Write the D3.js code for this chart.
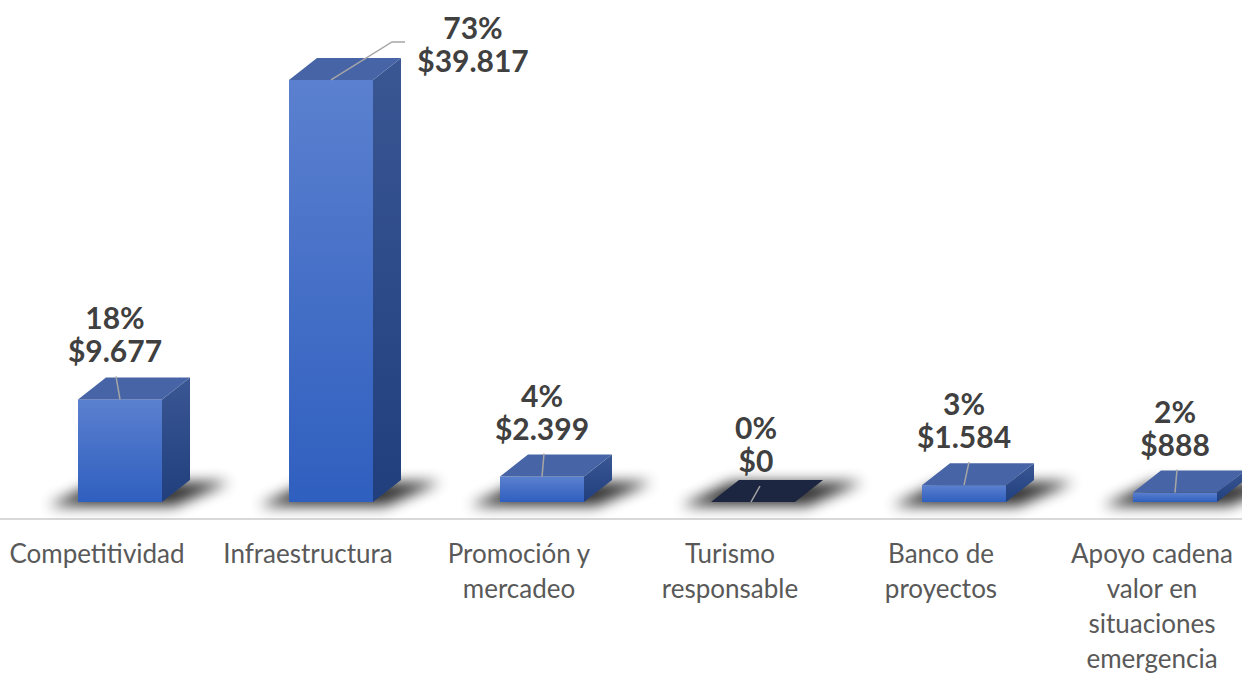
<!DOCTYPE html>
<html>
<head>
<meta charset="utf-8">
<script src="https://cdn.jsdelivr.net/npm/d3@7"></script>
<style>
  html, body { margin: 0; padding: 0; background: #fff; }
  svg { display: block; }
</style>
</head>
<body>
<svg id="chart" width="1242" height="674"></svg>
<script>
const categories = [
  ["Competitividad"],
  ["Infraestructura"],
  ["Promoción y", "mercadeo"],
  ["Turismo", "responsable"],
  ["Banco de", "proyectos"],
  ["Apoyo cadena", "valor en", "situaciones", "emergencia"]
];
const values = [9677, 39817, 2399, 0, 1584, 888];
const percents = ["18%", "73%", "4%", "0%", "3%", "2%"];
const valueLabels = ["$9.677", "$39.817", "$2.399", "$0", "$1.584", "$888"];

const W = 1242, H = 674;
const svg = d3.select("#chart");
const keys = categories.map(c => c.join(" "));

const x = d3.scaleBand().domain(keys).range([-7.5, 1258.5]).paddingInner(0).paddingOuter(0);
const y = d3.scaleLinear().domain([0, 40000]).range([502, 78]);

const barOffset = 85.5, barW = 84, depthX = 28, depthY = 22;

const defs = svg.append("defs");
const gFront = defs.append("linearGradient").attr("id", "gFront").attr("x1", 0).attr("y1", 0).attr("x2", 0).attr("y2", 1);
gFront.append("stop").attr("offset", "0%").attr("stop-color", "#5b80cf");
gFront.append("stop").attr("offset", "100%").attr("stop-color", "#2f5fbf");
const gSide = defs.append("linearGradient").attr("id", "gSide").attr("x1", 0).attr("y1", 0).attr("x2", 0).attr("y2", 1);
gSide.append("stop").attr("offset", "0%").attr("stop-color", "#3a5794");
gSide.append("stop").attr("offset", "100%").attr("stop-color", "#213f7d");
const blur = defs.append("filter").attr("id", "blur").attr("x", "-50%").attr("y", "-100%").attr("width", "200%").attr("height", "300%");
blur.append("feGaussianBlur").attr("stdDeviation", 7);

// axis line
svg.append("line").attr("x1", 0).attr("x2", W).attr("y1", 519).attr("y2", 519)
  .attr("stroke", "#d9d9d9").attr("stroke-width", 2);

const data = keys.map((k, i) => ({ k, i, v: values[i] }));
const base = y(0);

// shadows
svg.append("g").selectAll("path").data(data).join("path")
  .attr("d", d => {
    const l = x(d.k) + barOffset, r = l + barW;
    return `M${l - 30},${base + 4} L${r + 12},${base + 4} L${r + depthX + 40},${base - depthY + 2} L${l + depthX - 8},${base - depthY + 2} Z`;
  })
  .attr("fill", "#000").attr("opacity", 0.8).attr("filter", "url(#blur)");

const bars = svg.append("g").selectAll("g").data(data).join("g");
bars.each(function(d) {
  const g = d3.select(this);
  const l = x(d.k) + barOffset, r = l + barW, t = y(d.v);
  if (d.v > 0) {
    g.append("rect").attr("x", l).attr("y", t).attr("width", barW).attr("height", base - t).attr("fill", "url(#gFront)");
    g.append("path").attr("d", `M${r},${t} L${r + depthX},${t - depthY} L${r + depthX},${base - depthY} L${r},${base} Z`).attr("fill", "url(#gSide)");
    g.append("path").attr("d", `M${l},${t} L${r},${t} L${r + depthX},${t - depthY} L${l + depthX},${t - depthY} Z`).attr("fill", "#4764a6");
  } else {
    g.append("path").attr("d", `M${l},${t} L${r},${t} L${r + depthX},${t - depthY} L${l + depthX},${t - depthY} Z`).attr("fill", "#1d2640");
  }
});

// data labels
const labelFont = "'Lato', 'DejaVu Sans', sans-serif";
const labels = svg.append("g");
data.forEach(d => {
  const l = x(d.k) + barOffset, cx = l + barW / 2, t = y(d.v);
  let lx, yVal, line;
  if (t - 110 < 0) {
    lx = cx + 142; yVal = 72;
    line = `M${cx},${t} L${cx + 61},${t - 38} L${cx + 74},${t - 38}`;
  } else {
    lx = cx + (d.v === 0 ? 3 : d.i === 0 ? -5 : 0);
    yVal = t - 37 + (d.v === 0 ? 7 : 0);
    const ly = yVal + 14;
    line = `M${lx + (d.i === 0 ? 1 : d.i === 3 ? 4 : d.i === 4 ? 5 : 2)},${ly} L${cx + (d.v === 0 ? -2 : 0)},${d.v === 0 ? base : t}`;
  }
  labels.append("path").attr("d", line).attr("fill", "none").attr("stroke", "#a6a6a6").attr("stroke-width", 1.5);
  labels.append("text").attr("x", lx).attr("y", yVal - 33).attr("text-anchor", "middle")
    .attr("font-family", labelFont).attr("font-weight", 700).attr("font-size", 30).attr("fill", "#404040").text(percents[d.i]);
  labels.append("text").attr("x", lx).attr("y", yVal).attr("text-anchor", "middle")
    .attr("font-family", labelFont).attr("font-weight", 700).attr("font-size", 30).attr("fill", "#404040").text(valueLabels[d.i]);
});

// category labels
const catG = svg.append("g");
data.forEach(d => {
  const cx = x(d.k) + x.bandwidth() / 2;
  categories[d.i].forEach((line, j) => {
    catG.append("text").attr("x", cx - 1).attr("y", 563 + j * 35).attr("text-anchor", "middle")
      .attr("font-family", "'Lato', sans-serif").attr("font-weight", 400).attr("font-size", 26)
      .attr("fill", "#595959").text(line);
  });
});
</script>
</body>
</html>
